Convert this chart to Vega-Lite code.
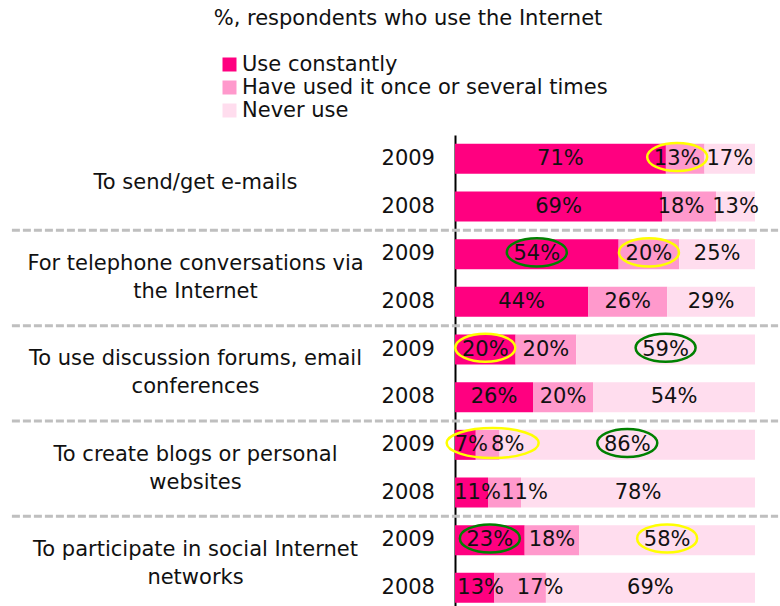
{
  "$schema": "https://vega.github.io/schema/vega-lite/v6.json",
  "autosize": {"type": "none"},
  "padding": {"left": 455, "top": 135, "right": 25, "bottom": 0},
  "width": 300,
  "height": 471,
  "config": {
    "view": {"stroke": null},
    "font": "DejaVu Sans",
    "text": {"font": "DejaVu Sans", "fontSize": 21, "color": "#111111"}
  },
  "title": {
    "text": "%, respondents who use the Internet",
    "font": "DejaVu Sans",
    "fontSize": 21,
    "fontWeight": "normal",
    "color": "#111111",
    "anchor": "middle",
    "frame": "group",
    "dx": -197,
    "offset": 25
  },
  "data": {
    "values": [
      {"task": "To send/get e-mails", "year": 2009, "status": "Use constantly", "level": 1, "value": 0.71, "highlight": null},
      {"task": "To send/get e-mails", "year": 2009, "status": "Have used it once or several times", "level": 2, "value": 0.13, "highlight": "yellow left"},
      {"task": "To send/get e-mails", "year": 2009, "status": "Never use", "level": 3, "value": 0.17, "highlight": null},
      {"task": "To send/get e-mails", "year": 2008, "status": "Use constantly", "level": 1, "value": 0.69, "highlight": null},
      {"task": "To send/get e-mails", "year": 2008, "status": "Have used it once or several times", "level": 2, "value": 0.18, "highlight": null},
      {"task": "To send/get e-mails", "year": 2008, "status": "Never use", "level": 3, "value": 0.13, "highlight": null},
      {"task": "For telephone conversations via the Internet", "year": 2009, "status": "Use constantly", "level": 1, "value": 0.54, "highlight": "green"},
      {"task": "For telephone conversations via the Internet", "year": 2009, "status": "Have used it once or several times", "level": 2, "value": 0.20, "highlight": "yellow"},
      {"task": "For telephone conversations via the Internet", "year": 2009, "status": "Never use", "level": 3, "value": 0.25, "highlight": null},
      {"task": "For telephone conversations via the Internet", "year": 2008, "status": "Use constantly", "level": 1, "value": 0.44, "highlight": null},
      {"task": "For telephone conversations via the Internet", "year": 2008, "status": "Have used it once or several times", "level": 2, "value": 0.26, "highlight": null},
      {"task": "For telephone conversations via the Internet", "year": 2008, "status": "Never use", "level": 3, "value": 0.29, "highlight": null},
      {"task": "To use discussion forums, email conferences", "year": 2009, "status": "Use constantly", "level": 1, "value": 0.20, "highlight": "yellow"},
      {"task": "To use discussion forums, email conferences", "year": 2009, "status": "Have used it once or several times", "level": 2, "value": 0.20, "highlight": null},
      {"task": "To use discussion forums, email conferences", "year": 2009, "status": "Never use", "level": 3, "value": 0.59, "highlight": "green"},
      {"task": "To use discussion forums, email conferences", "year": 2008, "status": "Use constantly", "level": 1, "value": 0.26, "highlight": null},
      {"task": "To use discussion forums, email conferences", "year": 2008, "status": "Have used it once or several times", "level": 2, "value": 0.20, "highlight": null},
      {"task": "To use discussion forums, email conferences", "year": 2008, "status": "Never use", "level": 3, "value": 0.54, "highlight": null},
      {"task": "To create blogs or personal websites", "year": 2009, "status": "Use constantly", "level": 1, "value": 0.07, "highlight": null},
      {"task": "To create blogs or personal websites", "year": 2009, "status": "Have used it once or several times", "level": 2, "value": 0.08, "highlight": "yellow wide"},
      {"task": "To create blogs or personal websites", "year": 2009, "status": "Never use", "level": 3, "value": 0.86, "highlight": "green"},
      {"task": "To create blogs or personal websites", "year": 2008, "status": "Use constantly", "level": 1, "value": 0.11, "highlight": null},
      {"task": "To create blogs or personal websites", "year": 2008, "status": "Have used it once or several times", "level": 2, "value": 0.11, "highlight": null},
      {"task": "To create blogs or personal websites", "year": 2008, "status": "Never use", "level": 3, "value": 0.78, "highlight": null},
      {"task": "To participate in social Internet networks", "year": 2009, "status": "Use constantly", "level": 1, "value": 0.23, "highlight": "green"},
      {"task": "To participate in social Internet networks", "year": 2009, "status": "Have used it once or several times", "level": 2, "value": 0.18, "highlight": null},
      {"task": "To participate in social Internet networks", "year": 2009, "status": "Never use", "level": 3, "value": 0.58, "highlight": "yellow"},
      {"task": "To participate in social Internet networks", "year": 2008, "status": "Use constantly", "level": 1, "value": 0.13, "highlight": null},
      {"task": "To participate in social Internet networks", "year": 2008, "status": "Have used it once or several times", "level": 2, "value": 0.17, "highlight": null},
      {"task": "To participate in social Internet networks", "year": 2008, "status": "Never use", "level": 3, "value": 0.69, "highlight": null}
    ]
  },
  "encoding": {
    "y": {
      "field": "task",
      "type": "nominal",
      "sort": ["To send/get e-mails", "For telephone conversations via the Internet", "To use discussion forums, email conferences", "To create blogs or personal websites", "To participate in social Internet networks"],
      "scale": {"range": [0, 476.7], "paddingInner": 0, "paddingOuter": 0},
      "axis": {
        "title": null,
        "domain": true,
        "domainColor": "#000000",
        "domainWidth": 2,
        "ticks": false,
        "tickSize": 0,
        "labelPadding": 260,
        "labelAlign": "center",
        "labelBaseline": "middle",
        "labelFont": "DejaVu Sans",
        "labelFontSize": 21,
        "labelColor": "#111111",
        "labelLimit": 0,
        "labelLineHeight": 28,
        "labelOffset": {"condition": {"test": "datum.value == 'To send/get e-mails'", "value": 0}, "value": -14},
        "labelExpr": "datum.value == 'For telephone conversations via the Internet' ? ['For telephone conversations via', 'the Internet'] : datum.value == 'To use discussion forums, email conferences' ? ['To use discussion forums, email', 'conferences'] : datum.value == 'To create blogs or personal websites' ? ['To create blogs or personal', 'websites'] : datum.value == 'To participate in social Internet networks' ? ['To participate in social Internet', 'networks'] : datum.value"
      }
    }
  },
  "layer": [
    {
      "mark": {"type": "bar"},
      "encoding": {
        "x": {"field": "value", "type": "quantitative", "stack": "normalize", "scale": {"domain": [0, 1], "nice": false, "zero": false}, "axis": null},
        "yOffset": {"field": "year", "type": "ordinal", "sort": "descending", "scale": {"paddingInner": 0.3706, "paddingOuter": 0.1853}},
        "color": {
          "field": "status",
          "type": "nominal",
          "scale": {"domain": ["Use constantly", "Have used it once or several times", "Never use"], "range": ["#FF0080", "#FF99CC", "#FFDDEE"]},
          "legend": {
            "title": null,
            "orient": "none",
            "legendX": -236,
            "legendY": -81,
            "padding": 0,
            "symbolType": "square",
            "symbolSize": 196,
            "symbolStrokeWidth": 0,
            "labelFont": "DejaVu Sans",
            "labelFontSize": 21,
            "labelColor": "#111111",
            "labelOffset": 2,
            "rowPadding": 1,
            "labelLimit": 0
          }
        },
        "order": {"field": "level", "type": "quantitative"}
      }
    },
    {
      "mark": {"type": "text", "align": "center", "baseline": "middle", "dx": {"expr": "datum.level == 1 && datum.value < 0.15 ? 6 : (datum.level == 2 && datum.value_start < 0.15 ? 20 : (datum.level == 2 && datum.value_start > 0.6 ? -8 : 0))"}},
      "encoding": {
        "x": {"field": "value", "type": "quantitative", "stack": "normalize", "bandPosition": 0.5},
        "yOffset": {"field": "year", "type": "ordinal", "sort": "descending"},
        "order": {"field": "level", "type": "quantitative"},
        "detail": {"field": "status"},
        "text": {"field": "value", "type": "quantitative", "format": ".0%"}
      }
    },
    {
      "mark": {"type": "point", "filled": false, "size": 3600, "strokeWidth": 2.5, "opacity": 1},
      "encoding": {
        "x": {"field": "value", "type": "quantitative", "stack": "normalize", "bandPosition": 0.5},
        "yOffset": {"field": "year", "type": "ordinal", "sort": "descending"},
        "order": {"field": "level", "type": "quantitative"},
        "detail": {"field": "status"},
        "shape": {
          "field": "highlight",
          "type": "nominal",
          "scale": {
            "domain": ["yellow", "green", "yellow wide", "yellow left"],
            "range": [
              "M-1,-0.06A1,0.467,0,1,0,1,-0.06A1,0.467,0,1,0,-1,-0.06Z",
              "M-1,-0.06A1,0.467,0,1,0,1,-0.06A1,0.467,0,1,0,-1,-0.06Z",
              "M-1.367,-0.06A1.533,0.5,0,1,0,1.7,-0.06A1.533,0.5,0,1,0,-1.367,-0.06Z",
              "M-1.267,-0.06A1,0.467,0,1,0,0.733,-0.06A1,0.467,0,1,0,-1.267,-0.06Z"
            ]
          },
          "legend": null
        },
        "stroke": {
          "condition": {"test": "!datum.highlight", "value": "transparent"},
          "field": "highlight",
          "type": "nominal",
          "scale": {"domain": ["yellow", "green", "yellow wide", "yellow left"], "range": ["#FFFF00", "#008000", "#FFFF00", "#FFFF00"]},
          "legend": null
        }
      }
    },
    {
      "transform": [{"filter": "datum.level == 1"}],
      "mark": {"type": "text", "align": "right", "baseline": "middle"},
      "encoding": {
        "x": {"datum": -0.0667},
        "yOffset": {"field": "year", "type": "ordinal", "sort": "descending"},
        "text": {"field": "year", "type": "nominal"}
      }
    },
    {
      "transform": [{"filter": "datum.level == 1 && datum.year == 2009"}],
      "mark": {"type": "rule", "color": "#BFBFBF", "strokeWidth": 3, "strokeDash": [8, 3]},
      "encoding": {
        "x": {"datum": -1.477},
        "x2": {"datum": 1.077},
        "y": {"field": "task", "type": "nominal", "bandPosition": 1}
      }
    }
  ]
}
